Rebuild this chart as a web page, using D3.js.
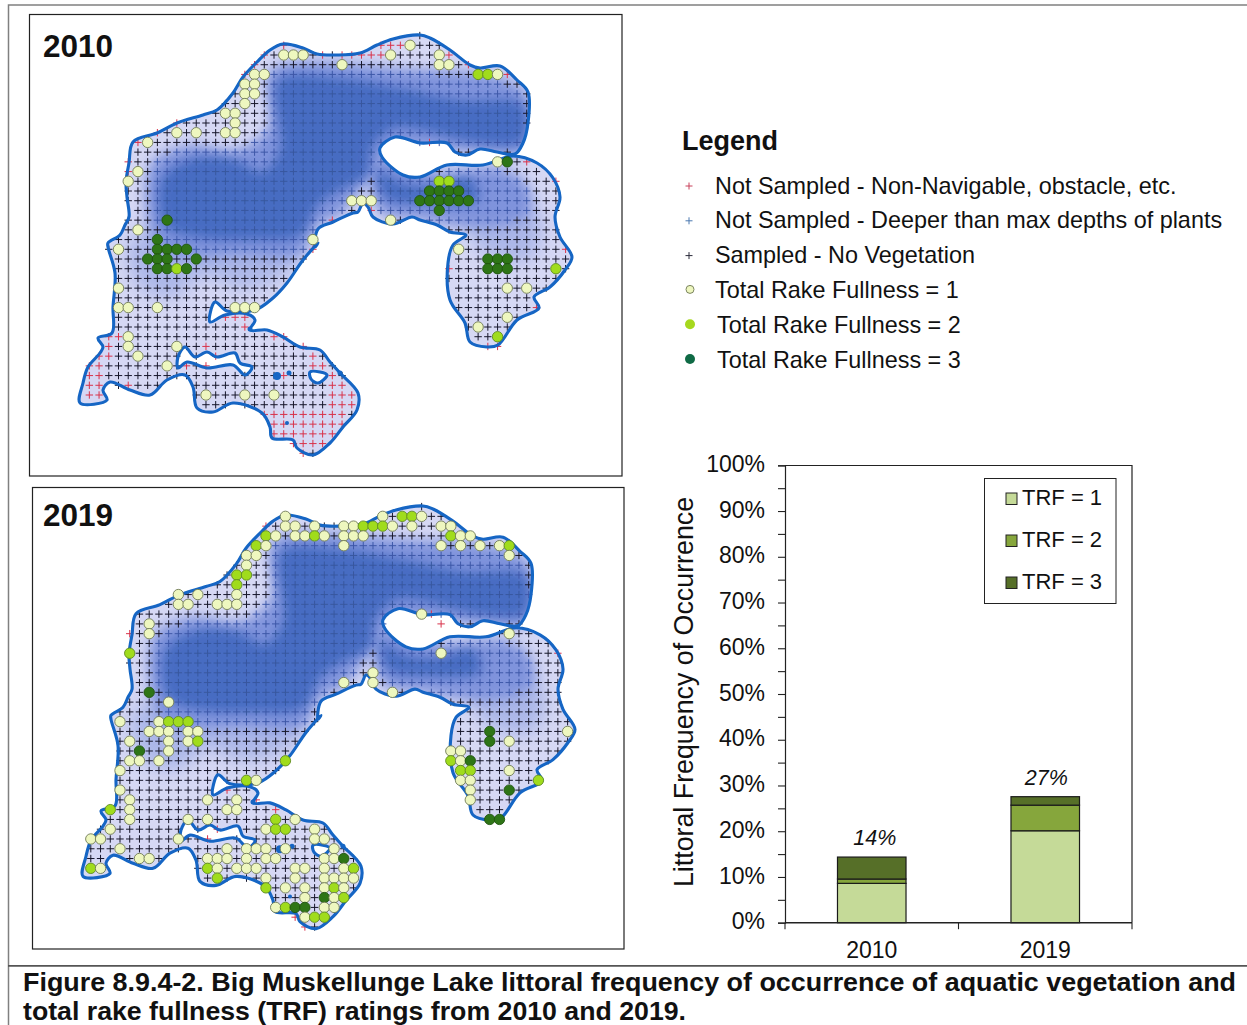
<!DOCTYPE html>
<html><head><meta charset="utf-8">
<script src="https://cdnjs.cloudflare.com/ajax/libs/d3/7.8.5/d3.min.js"></script>
<style>html,body{margin:0;padding:0;background:#fff}svg{display:block}text{font-family:"Liberation Sans",Arial,sans-serif;fill:#111}</style>
</head><body><svg id="c" width="1247" height="1025"></svg>
<script>
// ---------- chart data ----------
const years=["2010","2019"];
const trf1=[8.6,20.1];
const trf2=[0.95,5.6];
const trf3=[4.8,1.85];
const totalLabels=["14%","27%"];
const trfNames=["TRF = 1","TRF = 2","TRF = 3"];
const trfColors=["#c5da98","#86a63c","#566f28"];
const legendLabels=["Not Sampled - Non-Navigable, obstacle, etc.","Not Sampled - Deeper than max depths of plants","Sampled - No Vegetation","Total Rake Fullness = 1","Total Rake Fullness = 2","Total Rake Fullness = 3"];
// ---------- lake shape (map units) ----------
const shoreline=[[108,243],[120,235],[125,225],[129,217],[127,197],[126,182],[129,163],[133,142],[157,133],[177,123],[203,115],[217,110],[233,93],[243,77],[257,62],[270,50],[283,44],[303,48],[317,54],[337,55],[360,53],[377,45],[393,39],[420,35],[430,38],[450,50],[470,65],[480,68],[500,66],[517,80],[528,92],[528,123],[523,143],[515,154],[497,152],[480,149],[467,155],[455,152],[447,143],[420,143],[395,137],[380,148],[382,157],[403,175],[420,177],[447,165],[483,165],[513,156],[537,163],[553,178],[560,197],[555,217],[560,237],[572,257],[565,270],[550,287],[534,297],[539,308],[517,320],[498,345],[487,347],[470,342],[465,323],[450,300],[448,263],[453,245],[466,235],[450,232],[437,225],[420,220],[412,217],[393,224],[373,217],[368,207],[363,203],[358,212],[353,213],[333,222],[318,229],[315,247],[318,243],[303,260],[287,283],[273,298],[255,310],[227,311],[215,302],[210,322],[225,315],[247,314],[255,320],[250,330],[267,330],[283,337],[300,347],[320,350],[330,362],[340,373],[358,393],[357,410],[343,427],[330,443],[313,455],[297,448],[293,440],[272,438],[270,427],[262,413],[233,403],[213,412],[197,408],[193,387],[185,375],[167,380],[150,395],[130,390],[110,382],[103,390],[107,400],[80,403],[83,383],[88,367],[100,353],[103,347],[98,338],[112,333],[113,307],[115,273],[108,247]];
const islands=[
 [[178,357],[185,347],[195,357],[207,352],[217,357],[235,353],[240,363],[252,367],[245,375],[233,365],[207,368],[187,362],[178,368]],
 [[310,372],[320,372],[327,375],[318,383],[311,379]]
];
const rockRings=[[277,376,4],[289,373,2.5],[287,423,2],[340,373,2.5],[250,329,2.5]];
const mediumZones=[
 [[150,165],[190,145],[235,150],[268,128],[270,70],[400,68],[522,88],[530,150],[470,152],[440,150],[395,150],[375,170],[340,215],[318,225],[300,255],[240,255],[160,250]],
 [[372,160],[440,172],[500,168],[528,185],[530,215],[480,228],[420,220],[380,212]]
];
const paleZones=[
 [[132,238],[298,245],[285,275],[240,288],[205,276],[170,298],[136,282]],
 [[470,215],[540,215],[530,260],[480,250]]
];
const deepZones=[
 [[278,80],[340,78],[400,88],[460,100],[522,104],[522,142],[470,142],[430,132],[395,128],[372,148],[368,175],[340,190],[318,205],[300,236],[250,240],[200,238],[165,226],[162,178],[195,158],[235,160],[262,172],[280,150]],
 [[378,170],[400,182],[430,186],[470,178],[478,200],[420,204],[385,198]]
];
// ---------- sample points: [column, row] ----------
const red2010=[[17,-1],[15,0],[14,1],[13,2],[6,7],[4,8],[2,9],[1,11],[1,12],[21,0],[23,0],[24,0],[25,0],[26,0],[27,-1],[28,-1],[29,-1],[27,0],[34,0],[36,1],[40,2],[32,9],[42,11],[45,13],[26,16],[22,17],[20,20],[46,20],[34,22],[43,26],[38,30],[39,30],[11,27],[12,27],[13,27],[13,28],[-1,29],[0,29],[16,29],[17,29],[-1,30],[9,30],[19,30],[-2,31],[-1,31],[10,31],[20,31],[-3,32],[-2,32],[7,32],[9,32],[20,32],[21,32],[-3,33],[-2,33],[17,33],[22,33],[-3,34],[-2,34],[1,34],[22,34],[23,34],[-3,35],[-2,35],[22,35],[23,35],[24,35],[22,36],[23,36],[24,36],[15,37],[16,37],[17,37],[18,37],[19,37],[20,37],[21,37],[22,37],[23,37],[16,38],[17,38],[18,38],[19,38],[20,38],[21,38],[22,38],[23,38],[16,39],[17,39],[18,39],[19,39],[20,39],[21,39],[22,39],[18,40],[19,40],[20,40],[21,40],[19,41]];
const red2019=[[15,0],[1,11],[11,27],[14,28],[16,29],[10,31],[9,32],[18,40],[19,41],[32,9],[33,10],[45,13]];
// rake fullness points: [column, row, rating]
const rake2010=[[17,0,1],[18,0,1],[19,0,1],[23,1,1],[14,2,1],[15,2,1],[13,3,1],[14,3,1],[13,4,1],[14,4,1],[13,5,1],[11,6,1],[12,6,1],[12,7,1],[6,8,1],[8,8,1],[11,8,1],[12,8,1],[3,9,1],[2,12,1],[1,13,1],[24,15,1],[25,15,1],[26,15,1],[5,17,3],[2,18,1],[4,19,3],[20,19,1],[0,20,1],[4,20,3],[5,20,3],[6,20,3],[7,20,3],[3,21,3],[4,21,3],[5,21,3],[8,21,3],[4,22,3],[5,22,3],[6,22,2],[7,22,3],[0,24,1],[0,26,1],[1,26,1],[4,26,1],[12,26,1],[13,26,1],[14,26,1],[1,29,1],[1,30,1],[6,30,1],[2,31,1],[5,32,1],[9,35,1],[13,35,1],[16,35,1],[30,-1,1],[28,0,1],[33,0,1],[33,1,1],[34,1,1],[37,2,2],[38,2,2],[39,2,1],[39,11,1],[40,11,3],[33,13,2],[34,13,2],[32,14,3],[33,14,3],[34,14,3],[35,14,3],[31,15,3],[32,15,3],[33,15,3],[34,15,3],[35,15,3],[36,15,3],[33,16,3],[28,17,1],[35,20,1],[38,21,3],[39,21,3],[40,21,3],[38,22,3],[39,22,3],[40,22,3],[45,22,2],[40,24,1],[42,24,1],[40,27,1],[37,28,1],[39,29,2]];
const rake2019=[[17,-1,1],[27,-1,1],[29,-1,2],[30,-1,2],[31,-1,1],[17,0,1],[18,0,1],[20,0,1],[23,0,1],[24,0,1],[25,0,2],[26,0,2],[27,0,2],[28,0,1],[30,0,1],[33,0,1],[34,0,1],[15,1,2],[16,1,1],[18,1,1],[19,1,1],[20,1,2],[21,1,1],[23,1,1],[24,1,1],[25,1,1],[34,1,2],[35,1,1],[36,1,1],[14,2,2],[15,2,1],[23,2,1],[33,2,1],[35,2,1],[37,2,1],[39,2,1],[40,2,2],[13,3,1],[14,3,1],[40,3,1],[13,4,1],[12,5,2],[13,5,2],[12,6,2],[6,7,1],[8,7,1],[12,7,1],[6,8,1],[7,8,1],[10,8,1],[11,8,1],[12,8,1],[31,9,1],[3,10,1],[3,11,1],[40,11,1],[1,13,2],[33,13,1],[26,15,1],[23,16,1],[26,16,1],[3,17,3],[28,17,1],[5,18,1],[0,20,1],[4,20,1],[5,20,2],[6,20,2],[7,20,2],[3,21,1],[4,21,1],[5,21,1],[7,21,1],[8,21,1],[46,21,1],[38,21,3],[1,22,1],[5,22,1],[7,22,1],[8,22,2],[38,22,3],[40,22,1],[2,23,3],[5,23,1],[34,23,1],[35,23,1],[1,24,1],[2,24,1],[4,24,1],[17,24,2],[34,24,2],[35,24,1],[36,24,3],[0,25,1],[35,25,2],[36,25,2],[40,25,1],[13,26,2],[14,26,1],[35,26,1],[36,26,1],[43,26,2],[0,27,1],[36,27,1],[40,27,3],[1,28,1],[9,28,1],[12,28,1],[36,28,1],[-1,29,2],[1,29,1],[11,29,1],[12,29,1],[1,30,1],[7,30,1],[9,30,1],[16,30,2],[18,30,1],[38,30,3],[39,30,3],[-1,31,1],[15,31,1],[16,31,2],[17,31,2],[20,31,1],[-3,32,1],[-2,32,1],[6,32,1],[20,32,1],[21,32,1],[0,33,1],[11,33,1],[13,33,1],[14,33,1],[15,33,1],[17,33,1],[22,33,1],[2,34,1],[3,34,1],[9,34,1],[10,34,1],[11,34,1],[13,34,1],[15,34,1],[16,34,1],[21,34,1],[22,34,1],[23,34,3],[-3,35,2],[-2,35,1],[9,35,2],[10,35,1],[12,35,1],[13,35,1],[14,35,1],[18,35,1],[19,35,1],[21,35,1],[23,35,1],[24,35,2],[10,36,2],[15,36,1],[18,36,1],[21,36,1],[22,36,1],[23,36,1],[24,36,1],[15,37,2],[17,37,1],[19,37,1],[21,37,1],[22,37,2],[23,37,1],[19,38,1],[21,38,3],[22,38,1],[23,38,2],[16,39,1],[17,39,2],[18,39,3],[19,39,3],[21,39,1],[22,39,1],[19,40,1],[20,40,2],[21,40,2]];
const colRange=[-4,47], rowRange=[-2,42];
const rakeFill={1:"#eef7bf",2:"#a0dc1e",3:"#2f7414"};
const rakeStroke={1:"#6f7a55",2:"#5f8a20",3:"#1f5410"};

const svg=d3.select("#c");
const defs=svg.append("defs");
defs.append("filter").attr("id","softP").attr("x","-30%").attr("y","-30%").attr("width","160%").attr("height","160%").append("feGaussianBlur").attr("stdDeviation",9);
defs.append("filter").attr("id","softM").attr("x","-20%").attr("y","-20%").attr("width","140%").attr("height","140%").append("feGaussianBlur").attr("stdDeviation",7);
defs.append("filter").attr("id","softD").attr("x","-20%").attr("y","-20%").attr("width","140%").attr("height","140%").append("feGaussianBlur").attr("stdDeviation",6);
defs.append("filter").attr("id","soft").attr("x","-2%").attr("y","-2%").attr("width","104%").attr("height","104%").append("feGaussianBlur").attr("stdDeviation",0.45);

// page frame
const frame=svg.append("g").attr("fill","none");
frame.append("path").attr("d",d3.line()([[1247,5],[8.5,5],[8.5,1025]])).attr("stroke","#808080").attr("stroke-width",1.5);
frame.append("path").attr("d",d3.line()([[8,965.8],[1247,965.8]])).attr("stroke","#555").attr("stroke-width",1.7);

const lakeLine=d3.line().curve(d3.curveCatmullRomClosed.alpha(0.5));
function panel(id,box,yr,xr,gridX,red,rake,yLabelBase){
  const g=svg.append("g");
  g.append("rect").attr("x",box[0]).attr("y",box[1]).attr("width",box[2]).attr("height",box[3]).attr("fill","#fff").attr("stroke","#222").attr("stroke-width",1.2);
  g.append("text").attr("x",43).attr("y",yLabelBase).attr("font-size",31.5).attr("font-weight","bold").text(id);
  const u=d3.scaleLinear().domain([80,572]).range(xr);
  const v=d3.scaleLinear().domain([35,347]).range(yr);
  const col=d3.scaleLinear().domain([0,46]).range(gridX);
  const row=d3.scaleLinear().domain([0,35]).range([v(55),v(395)]);
  const P=a=>a.map(p=>[u(p[0]),v(p[1])]);
  const shore=P(shoreline), isl=islands.map(P);
  const cid="clip"+id;
  const full=lakeLine(shore)+isl.map(a=>lakeLine(a)).join("");
  defs.append("clipPath").attr("id",cid).append("path").attr("d",full).attr("clip-rule","evenodd");
  const map=g.append("g").attr("filter","url(#soft)");
  const water=map.append("g").attr("clip-path",`url(#${cid})`);
  water.append("rect").attr("x",box[0]).attr("y",box[1]).attr("width",box[2]).attr("height",box[3]).attr("fill","#d6d8f4");
  water.selectAll(".p").data(paleZones).join("path").attr("d",a=>lakeLine(P(a))).attr("fill","#9dacE4").attr("opacity",0.75).attr("filter","url(#softP)");
  water.selectAll(".m").data(mediumZones).join("path").attr("d",a=>lakeLine(P(a))).attr("fill","#7f93dc").attr("filter","url(#softM)");
  water.selectAll(".d").data(deepZones).join("path").attr("d",a=>lakeLine(P(a))).attr("fill","#466cc2").attr("filter","url(#softD)");
  // sample grid
  const deep=deepZones.map(P), medium=mediumZones.map(P);
  const redKey=new Set(red.map(d=>d.join(",")));
  const pts=[];
  d3.range(rowRange[0],rowRange[1]).forEach(r=>d3.range(colRange[0],colRange[1]).forEach(c=>{
    const p=[col(c),row(r)];
    const isRed=redKey.has(c+","+r);
    if(!isRed){ if(!d3.polygonContains(shore,p)||isl.some(a=>d3.polygonContains(a,p))) return; }
    const dp=deep.some(a=>d3.polygonContains(a,p));
    const md=medium.some(a=>d3.polygonContains(a,p));
    pts.push({p,color:isRed?"#d8324a":dp?"#38589f":md?"#3e58a8":"#16162a"});
  }));
  map.append("g").selectAll("path").data(pts).join("path")
    .attr("d",d=>`M${d.p[0]-3.7},${d.p[1]}h7.4M${d.p[0]},${d.p[1]-3.7}v7.4`)
    .attr("stroke",d=>d.color).attr("stroke-width",1).attr("fill","none");
  // shoreline
  map.append("path").attr("d",full).attr("fill","none").attr("stroke","#1265c4").attr("stroke-width",3.1);
  map.selectAll(".rock").data(rockRings).join("circle").attr("cx",d=>u(d[0])).attr("cy",d=>v(d[1])).attr("r",d=>d[2]).attr("fill","#1265c4");
  // rake points
  map.append("g").selectAll("circle").data(rake).join("circle")
    .attr("cx",d=>col(d[0])).attr("cy",d=>row(d[1])).attr("r",5.2)
    .attr("fill",d=>rakeFill[d[2]]).attr("stroke",d=>rakeStroke[d[2]]).attr("stroke-width",0.9);
}
panel("2010",[29.5,14.5,592.5,461.5],[35,347],[80,572],[118.5,565.6],red2010,rake2010,57);
panel("2019",[32.5,487.5,591.5,461.5],[506,820],[83,575],[120,567.6],red2019,rake2019,526);

// map legend
const lg=svg.append("g");
lg.append("text").attr("x",682).attr("y",150).attr("font-size",27).attr("font-weight","bold").text("Legend");
const legendRow=d3.scalePoint().domain(legendLabels).range([186,360]);
const legendTextX=[715,715,715,715,717,717];
const crossCol=["#c8405a","#4a78b0","#2a2a3a"];
legendLabels.forEach((t,i)=>{
  const y=legendRow(t);
  lg.append("text").attr("x",legendTextX[i]).attr("y",y+7.5).attr("font-size",23.4).attr("fill","#222").text(t);
  if(i<3){lg.append("path").attr("d",`M685.5,${y}h7M689,${y-3.5}v7`).attr("stroke",crossCol[i]).attr("stroke-width",1);}
  else {lg.append("circle").attr("cx",690).attr("cy",y-1).attr("r",i==3?4:5).attr("fill",["#eef7bf","#a6d81e","#0f6a45"][i-3]).attr("stroke",i==3?"#7c8560":"none");}
});

// stacked bars
const x=d3.scaleBand().domain(years).range([785,1132]).paddingInner(0.605).paddingOuter(0.3025);
const y=d3.scaleLinear().domain([0,100]).range([922.7,465.3]);
const gc=svg.append("g");
const stack=d3.stack().keys([0,1,2]).value((d,k)=>d[k])(years.map((_,i)=>[trf1[i],trf2[i],trf3[i]]));
stack.forEach((s,k)=>{
  gc.append("g").selectAll("rect").data(s).join("rect")
   .attr("x",(d,i)=>x(years[i])).attr("width",x.bandwidth())
   .attr("y",d=>y(d[1])).attr("height",d=>y(d[0])-y(d[1]))
   .attr("fill",trfColors[k]).attr("stroke","#1a1a1a").attr("stroke-width",1.2);
});
// frame
gc.append("path").attr("d",d3.line()([[785,465.5],[1132,465.5],[1132,922.7]])).attr("fill","none").attr("stroke","#222").attr("stroke-width",1.2);
const yAxis=d3.axisLeft(y).tickValues(d3.range(0,101,5)).tickSize(7).tickFormat(d=>d%10===0?d+"%":"");
const ax=gc.append("g").attr("transform","translate(785,0)").call(yAxis);
ax.select(".domain").attr("stroke","#222").attr("stroke-width",1.2);
ax.selectAll(".tick line").attr("stroke","#222").attr("stroke-width",1.1);
ax.selectAll("text").attr("font-size",23).attr("x",-20).attr("dy","0.27em").attr("font-family",'"Liberation Sans"').attr("fill","#111");
const xb=gc.append("g").attr("transform","translate(0,922.7)");
xb.append("path").attr("d",d3.line()([[785,0],[1132,0]])).attr("stroke","#222").attr("stroke-width",1.6);
x.domain().concat("end").forEach((_,i)=>{xb.append("path").attr("d",d3.line()([[785+i*x.step(),0],[785+i*x.step(),6.5]])).attr("stroke","#222").attr("stroke-width",1.1);});
years.forEach((yr,i)=>{
  gc.append("text").attr("x",x(yr)+x.bandwidth()/2).attr("y",957.5).attr("text-anchor","middle").attr("font-size",23).text(yr);
  gc.append("text").attr("x",x(yr)+x.bandwidth()/2+(i?1:3)).attr("y",y(trf1[i]+trf2[i]+trf3[i])-12).attr("text-anchor","middle").attr("font-size",21.5).attr("font-style","italic").text(totalLabels[i]);
});
gc.append("text").attr("transform","translate(692.5,692) rotate(-90)").attr("text-anchor","middle").attr("font-size",26.8).text("Littoral Frequency of Occurrence");
// chart legend
gc.append("rect").attr("x",984.5).attr("y",478.5).attr("width",131.5).attr("height",125).attr("fill","#fff").attr("stroke","#222").attr("stroke-width",1);
const legY=d3.scalePoint().domain(trfNames).range([498.5,582.5]);
trfNames.forEach((t,i)=>{
  gc.append("rect").attr("x",1006).attr("y",legY(t)-5.5).attr("width",11).attr("height",11.5).attr("fill",trfColors[i]).attr("stroke","#222").attr("stroke-width",1);
  gc.append("text").attr("x",1022).attr("y",legY(t)+6.5).attr("font-size",22).text(t);
});
// caption
const cap=svg.append("g").attr("font-size",25).attr("font-weight","bold");
cap.append("text").attr("x",23).attr("y",991).attr("textLength",1213).attr("lengthAdjust","spacingAndGlyphs").text("Figure 8.9.4-2. Big Muskellunge Lake littoral frequency of occurrence of aquatic vegetation and");
cap.append("text").attr("x",23).attr("y",1019.5).attr("textLength",663).attr("lengthAdjust","spacingAndGlyphs").text("total rake fullness (TRF) ratings from 2010 and 2019.");
</script></body></html>
